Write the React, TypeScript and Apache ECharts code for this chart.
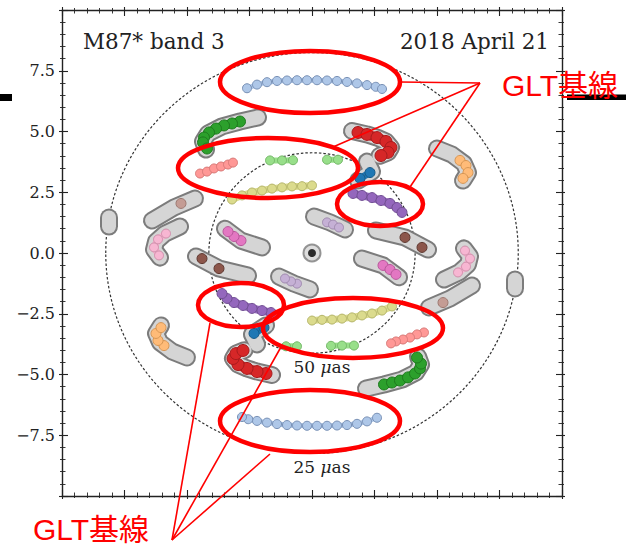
import { useEffect, useRef } from "react";
import * as echarts from "echarts";

// ---- axis values ----
const axisMin = -10;
const axisMax = 10;
const axisStep = 2.5;
const yTickValues = [-7.5, -5, -2.5, 0, 2.5, 5, 7.5];
const yTickLabels = ["−7.5", "−5.0", "−2.5", "0.0", "2.5", "5.0", "7.5"];

// ---- reference rings (Gλ) ----
const ringRadii = [8.25, 4.125];
const ringLabels = ["25", "50"];

// ---- uv tracks (u, v) in Gλ; conjugate points are (-u, -v) ----
const trackLightBlue = [[-2.6, 6.78], [-2.2, 6.93], [-1.8, 7.03], [-1.4, 7.08], [-1.0, 7.1], [-0.6, 7.11], [-0.2, 7.11], [0.2, 7.11], [0.6, 7.1], [1.0, 7.08], [1.4, 7.04], [1.8, 6.98], [2.2, 6.91], [2.55, 6.84], [2.8, 6.75]];
const trackGreen = [[-2.88, 5.41], [-3.2, 5.33], [-3.52, 5.25], [-3.84, 5.12], [-4.12, 4.96], [-4.32, 4.75], [-4.36, 4.55], [-4.2, 4.3]];
const trackSalmon = [[-4.48, 3.27], [-4.2, 3.35], [-3.92, 3.48], [-3.64, 3.56], [-3.36, 3.64], [-3.16, 3.72]];
const trackLightGreenA = [[-1.68, 3.81], [-1.2, 3.81], [-0.76, 3.82]];
const trackLightGreenB = [[0.6, 3.84], [1.04, 3.84]];
const trackYellow = [[-3.2, 2.2], [-2.8, 2.37], [-2.4, 2.49], [-2.0, 2.57], [-1.6, 2.65], [-1.2, 2.7], [-0.8, 2.74], [-0.4, 2.75], [0.0, 2.78]];
const trackRed = [[1.84, 4.96], [2.2, 4.88], [2.6, 4.75], [2.96, 4.59], [3.16, 4.34], [3.04, 4.14], [2.76, 4.01]];
const trackBlue = [[2.32, 3.31], [1.92, 3.07]];
const trackPurple = [[1.64, 2.45], [2.0, 2.37], [2.4, 2.28], [2.76, 2.16], [3.12, 2.04], [3.4, 1.87], [3.6, 1.67]];
const trackLightPurple = [[0.6, 1.26], [0.84, 1.17], [1.08, 1.05]];
const trackBrown = [[3.72, 0.64], [4.4, 0.23]];
const trackPink = [[2.84, -0.51], [3.12, -0.68], [3.36, -0.88]];
const trackLightPink = [[5.84, -0.8], [6.16, -0.56], [6.32, -0.23], [6.12, 0.1]];
const trackLightBrown = [[5.24, -2.04]];
const trackOrange = [[5.92, 3.81], [6.16, 3.6], [6.24, 3.31], [6.04, 3.07]];
const sourcePoint = [[0, 0]];

// ---- gray coverage envelopes ----
const envGreen = [[-2.16, 5.58], [-2.88, 5.41], [-3.6, 5.21], [-4.16, 4.92], [-4.36, 4.59], [-4.24, 4.26]];
const envRed = [[1.6, 5.02], [2.2, 4.88], [2.6, 4.75], [2.96, 4.59], [3.16, 4.34], [3.04, 4.14], [2.7, 4.0]];
const envBlue = [[2.2, 3.76], [2.4, 3.35], [1.84, 2.98]];
const envLightPurple = [[0.08, 1.5], [0.72, 1.26], [1.32, 0.97]];
const envBrown = [[2.56, 0.93], [3.72, 0.64], [4.64, 0.14]];
const envPink = [[2.0, -0.23], [2.84, -0.51], [3.48, -1.0]];
const envLightPink = [[5.28, -1.09], [5.88, -0.8], [6.24, -0.47], [6.32, -0.14], [6.08, 0.19]];
const envLightBrown = [[4.68, -2.24], [5.52, -1.87], [6.4, -1.34]];
const envOrange = [[5.0, 4.3], [5.6, 4.05], [6.08, 3.68], [6.24, 3.31], [6.04, 2.98]];
const envOuterBlob = [[8.12, -1.09], [8.12, -1.46]];

const conj = (pts: number[][]) => pts.map(([u, v]) => [-u, -v]);

type TrackStyle = { pts: number[][]; color: string; edge: string; size: number; line: number };
const TRACKS: TrackStyle[] = [
  { pts: trackLightBlue, color: "#aec7e8", edge: "#7890b5", size: 9, line: 5 },
  { pts: trackGreen, color: "#2ca02c", edge: "#1e7a1e", size: 11, line: 9 },
  { pts: trackSalmon, color: "#ff9896", edge: "#d87a78", size: 9, line: 7 },
  { pts: trackLightGreenA, color: "#98df8a", edge: "#74b868", size: 9, line: 6 },
  { pts: trackLightGreenB, color: "#98df8a", edge: "#74b868", size: 9, line: 6 },
  { pts: trackYellow, color: "#dbdb8d", edge: "#b5b56a", size: 9, line: 7 },
  { pts: trackRed, color: "#d62728", edge: "#a81c1d", size: 12, line: 10 },
  { pts: trackBlue, color: "#1f77b4", edge: "#175a88", size: 10, line: 7 },
  { pts: trackPurple, color: "#9467bd", edge: "#725093", size: 10, line: 8 },
  { pts: trackLightPurple, color: "#c5b0d5", edge: "#a08aaf", size: 9, line: 7 },
  { pts: trackBrown, color: "#8c564b", edge: "#5e3830", size: 10, line: 0 },
  { pts: trackPink, color: "#e377c2", edge: "#b8589b", size: 10, line: 8 },
  { pts: trackLightPink, color: "#f7b6d2", edge: "#d08fab", size: 9, line: 7 },
  { pts: trackLightBrown, color: "#c49c94", edge: "#9c7870", size: 10, line: 0 },
  { pts: trackOrange, color: "#ffbb78", edge: "#d69655", size: 10, line: 8 },
];
const ENVELOPES = [envGreen, envRed, envBlue, envLightPurple, envBrown, envPink, envLightPink, envLightBrown, envOrange, envOuterBlob];

const W = 626;
const H = 547;

function makeAxis(position: string, inside: boolean, len: number, minorLen: number, showLine: boolean, labels: boolean) {
  return {
    type: "value",
    min: axisMin,
    max: axisMax,
    interval: axisStep,
    position,
    axisLine: { show: showLine, onZero: false, lineStyle: { color: "#222", width: 1.4 } },
    axisTick: { show: true, inside, length: len, lineStyle: { color: "#222", width: 1.1 } },
    minorTick: { show: true, splitNumber: 5, length: minorLen, lineStyle: { color: "#222", width: 0.9 } },
    splitLine: { show: false },
    minorSplitLine: { show: false },
    axisLabel: labels
      ? {
          show: true,
          showMinLabel: false,
          showMaxLabel: false,
          margin: 7,
          color: "#222",
          fontFamily: "DejaVu Serif",
          fontSize: 16,
          formatter: (val: number) => {
            const i = yTickValues.findIndex((t) => Math.abs(t - val) < 1e-6);
            return i >= 0 ? yTickLabels[i] : "";
          },
        }
      : { show: false },
  };
}

export default function App() {
  const ref = useRef<HTMLDivElement>(null);
  useEffect(() => {
    document.body.style.margin = "0";
    if (!ref.current) return;
    const chart = echarts.init(ref.current, null, { renderer: "svg" });

    const allEnv = ENVELOPES.flatMap((e) => [e, conj(e)]);
    const allTracks = TRACKS.flatMap((t) => [t, { ...t, pts: conj(t.pts) }]);

    const series: any[] = [];
    allEnv.forEach((e) =>
      series.push({
        type: "line", data: e, showSymbol: false, symbol: "none", silent: true, z: 2,
        lineStyle: { color: "#7c7c7c", width: 18, cap: "round", join: "round" },
      })
    );
    allEnv.forEach((e) =>
      series.push({
        type: "line", data: e, showSymbol: false, symbol: "none", silent: true, z: 3,
        lineStyle: { color: "#d5d5d5", width: 14, cap: "round", join: "round" },
      })
    );
    allTracks.forEach((t) =>
      series.push({
        type: "line", data: t.pts, silent: true, z: 4,
        symbol: "circle", symbolSize: t.size, showSymbol: true, showAllSymbol: true,
        itemStyle: { color: t.color, borderColor: t.edge, borderWidth: 1 },
        lineStyle: { color: t.color, width: t.line, opacity: t.line > 0 ? 1 : 0, cap: "round", join: "round" },
      })
    );
    series.push({
      type: "scatter", data: sourcePoint, silent: true, z: 4, symbolSize: 17,
      itemStyle: { color: "#d5d5d5", borderColor: "#7c7c7c", borderWidth: 2 },
    });
    series.push({
      type: "scatter", data: sourcePoint, silent: true, z: 5, symbolSize: 8,
      itemStyle: { color: "#000" },
    });

    chart.setOption({
      animation: false,
      grid: { left: 62, top: 10, width: 500, height: 486 },
      xAxis: [
        makeAxis("bottom", true, 6, 3.5, true, false),
        makeAxis("top", true, 6, 3.5, true, false),
        makeAxis("bottom", false, 3, 2, false, false),
        makeAxis("top", false, 3, 2, false, false),
      ],
      yAxis: [
        makeAxis("left", true, 6, 3.5, true, true),
        makeAxis("right", true, 6, 3.5, true, false),
        makeAxis("left", false, 3, 2, false, false),
        makeAxis("right", false, 3, 2, false, false),
      ],
      series: series.map((s) => ({ xAxisIndex: 0, yAxisIndex: 0, ...s })),
    });

    const c = chart.convertToPixel({ gridIndex: 0 }, [0, 0]) as number[];
    const graphics: any[] = [];
    ringRadii.forEach((r, i) => {
      const px = chart.convertToPixel({ gridIndex: 0 }, [r, 0]) as number[];
      const py = chart.convertToPixel({ gridIndex: 0 }, [0, r]) as number[];
      const rx = px[0] - c[0];
      const ry = c[1] - py[1];
      graphics.push({
        type: "ellipse", z: 1, silent: true,
        shape: { cx: c[0], cy: c[1], rx, ry },
        style: { fill: "none", stroke: "#333", lineWidth: 1.2, lineDash: [2.5, 2] },
      });
      graphics.push({
        type: "text", z: 6, silent: true, x: c[0] + 10, y: c[1] + ry + 14,
        style: {
          text: `{n|${ringLabels[i]} }{m|μ}{n|as}`,
          align: "center", verticalAlign: "middle", textAlign: "center", textVerticalAlign: "middle",
          rich: {
            n: { fontFamily: "DejaVu Serif", fontSize: 17, fill: "#222", color: "#222" },
            m: { fontFamily: "DejaVu Serif", fontStyle: "italic", fontSize: 17, fill: "#222", color: "#222" },
          },
        },
      });
    });

    const serif = (text: string, x: number, align: string) => ({
      type: "text", z: 6, silent: true, x, y: 41,
      style: {
        text, fill: "#222", fontFamily: "DejaVu Serif", fontSize: 21.5,
        align, verticalAlign: "middle", textAlign: align, textVerticalAlign: "middle",
      },
    });
    graphics.push(serif("M87* band 3", 83, "left"));
    graphics.push(serif("2018 April 21", 549, "right"));

    // slide artefacts
    graphics.push({ type: "rect", z: 50, silent: true, shape: { x: 0, y: 94, width: 12, height: 7 }, style: { fill: "#000" } });
    graphics.push({ type: "rect", z: 50, silent: true, shape: { x: 567, y: 94.5, width: 59, height: 5.5 }, style: { fill: "#000" } });

    // red annotations
    const red = "#ff0000";
    const ell = (cx: number, cy: number, rx: number, ry: number) => ({
      type: "ellipse", z: 100, silent: true, shape: { cx, cy, rx, ry },
      style: { fill: "none", stroke: red, lineWidth: 4.5 },
    });
    const ln = (x1: number, y1: number, x2: number, y2: number) => ({
      type: "line", z: 99, silent: true, shape: { x1, y1, x2, y2 },
      style: { stroke: red, lineWidth: 1.6 },
    });
    graphics.push(ell(310, 82, 90, 31));
    graphics.push(ell(268, 168, 90, 30));
    graphics.push(ell(380, 204, 43, 22));
    graphics.push(ell(241, 305, 43, 22));
    graphics.push(ell(353, 328, 90, 30));
    graphics.push(ell(310, 421, 90, 31));
    graphics.push(ln(480, 83, 400, 82));
    graphics.push(ln(480, 83, 333, 147));
    graphics.push(ln(480, 83, 410, 187));
    graphics.push(ln(172, 540, 210, 323));
    graphics.push(ln(172, 540, 281, 347));
    graphics.push(ln(172, 540, 270, 454));
    const glt = (x: number, y: number) => ({
      type: "text", z: 101, silent: true, x, y,
      style: {
        text: "GLT基線", fill: red, fontFamily: "'Liberation Sans', 'Noto Sans CJK JP', sans-serif", fontSize: 30,
        align: "left", verticalAlign: "middle", textAlign: "left", textVerticalAlign: "middle",
      },
    });
    graphics.push(glt(502, 85));
    graphics.push(glt(33, 529));

    chart.setOption({ graphic: graphics });

    return () => chart.dispose();
  }, []);
  return <div ref={ref} style={{ width: W, height: H }} />;
}
